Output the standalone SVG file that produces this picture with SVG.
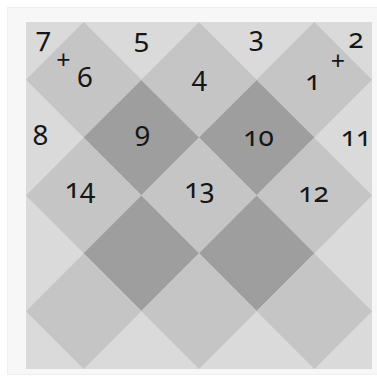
<svg xmlns="http://www.w3.org/2000/svg" width="377" height="385" viewBox="0 0 377 385">
<style>
.frame{fill:#f7f7f7;stroke:#efefef;stroke-width:1}
.bg{fill:#dadada}
.mid{fill:#c5c5c5}
.dark{fill:#9e9e9e}
text{font-family:"Noto Sans","Open Sans",sans-serif;font-size:28px;fill:#161616;text-anchor:middle;font-variant-numeric:oldstyle-nums}
.plus{font-size:25px}
</style>
<defs>
<polygon id="dia" points="0,-57.7 57.7,0 0,57.7 -57.7,0"/>
</defs>
<rect width="377" height="385" fill="#ffffff"/>
<rect class="frame" x="7.5" y="7.5" width="372" height="367"/>
<g id="board">
<rect class="bg" x="26" y="22" width="346" height="347"/>
<g id="d6"><use href="#dia" class="mid" x="83.7" y="79.8"/></g>
<g id="d4"><use href="#dia" class="mid" x="199" y="79.8"/></g>
<g id="d1"><use href="#dia" class="mid" x="314.3" y="79.8"/></g>
<g id="d9"><use href="#dia" class="dark" x="141.3" y="137.6"/></g>
<g id="d10"><use href="#dia" class="dark" x="256.7" y="137.6"/></g>
<g id="d14"><use href="#dia" class="mid" x="83.7" y="195.5"/></g>
<g id="d13"><use href="#dia" class="mid" x="199" y="195.5"/></g>
<g id="d12"><use href="#dia" class="mid" x="314.3" y="195.5"/></g>
<g id="dl"><use href="#dia" class="dark" x="141.3" y="253.3"/></g>
<g id="dr"><use href="#dia" class="dark" x="256.7" y="253.3"/></g>
<g id="db1"><use href="#dia" class="mid" x="83.7" y="311.2"/></g>
<g id="db2"><use href="#dia" class="mid" x="199" y="311.2"/></g>
<g id="db3"><use href="#dia" class="mid" x="314.3" y="311.2"/></g>
</g>
<g id="labels">
<text x="43.5" y="47">7</text>
<text class="plus" x="63.5" y="69">+</text>
<text x="85" y="87">6</text>
<text x="141.5" y="48">5</text>
<text x="199.5" y="86">4</text>
<text x="256.5" y="46">3</text>
<text x="356" y="48">2</text>
<text class="plus" x="338" y="70">+</text>
<text x="313" y="90">1</text>
<text x="40.5" y="145">8</text>
<text x="142.5" y="141">9</text>
<text x="258.5" y="146">10</text>
<text x="356" y="146">11</text>
<text x="80" y="198">14</text>
<text x="199.5" y="198">13</text>
<text x="313.5" y="202">12</text>
</g>
</svg>
